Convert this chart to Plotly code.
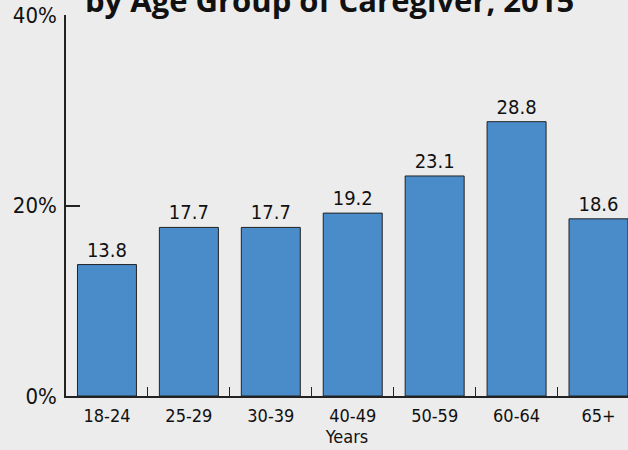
import plotly.graph_objects as go

categories = ["18-24", "25-29", "30-39", "40-49", "50-59", "60-64", "65+"]
values = [13.8, 17.7, 17.7, 19.2, 23.1, 28.8, 18.6]
value_labels = ["13.8", "17.7", "17.7", "19.2", "23.1", "28.8", "18.6"]
y_ticks = [0, 20, 40]
y_tick_labels = ["0%", "20%", "40%"]
title_text = "by Age Group of Caregiver, 2015"
x_title = "Years"

cond = "Liberation Sans Narrow, DejaVu Sans Condensed, Roboto, sans-serif"

fig = go.Figure(go.Bar(
    x=categories, y=values, text=value_labels, textposition="outside",
    textfont=dict(family=cond, size=20, color="#111"),
    marker=dict(color="#4a8bc9", line=dict(color="#222", width=1)),
    width=0.72, cliponaxis=False,
))

fig.update_layout(
    width=628, height=450,
    paper_bgcolor="#ececec", plot_bgcolor="#ececec",
    margin=dict(l=66, r=0, t=15, b=54),
    showlegend=False,
    title=dict(text="<b>" + title_text + "</b>", x=85/628, xanchor="left",
               xref="container", yref="container", y=1 - 1/450, yanchor="middle",
               font=dict(family="Open Sans, sans-serif", size=31, color="#111")),
    font=dict(family=cond, color="#111"),
)
fig.update_xaxes(
    range=[-0.5, 6.36], showline=True, linecolor="#222", linewidth=1.5,
    ticks="inside", tickson="boundaries", ticklen=9, tickcolor="#222",
    ticklabelstandoff=3,
    tickfont=dict(family=cond, size=18, color="#111"), showgrid=False,
    title=dict(text=x_title, font=dict(family=cond, size=18, color="#111"), standoff=3),
)
fig.update_yaxes(
    range=[0, 40], tickvals=y_ticks, ticktext=y_tick_labels,
    showline=True, linecolor="#222", linewidth=1.5,
    ticks="inside", ticklen=14, tickcolor="#222", tickwidth=1.5,
    ticklabelstandoff=3,
    tickfont=dict(family=cond, size=22, color="#111"), showgrid=False, zeroline=False,
)

fig.write_html("out.html", config={"displayModeBar": False},
               post_script="document.body.style.margin='0';document.body.style.overflow='hidden';")
